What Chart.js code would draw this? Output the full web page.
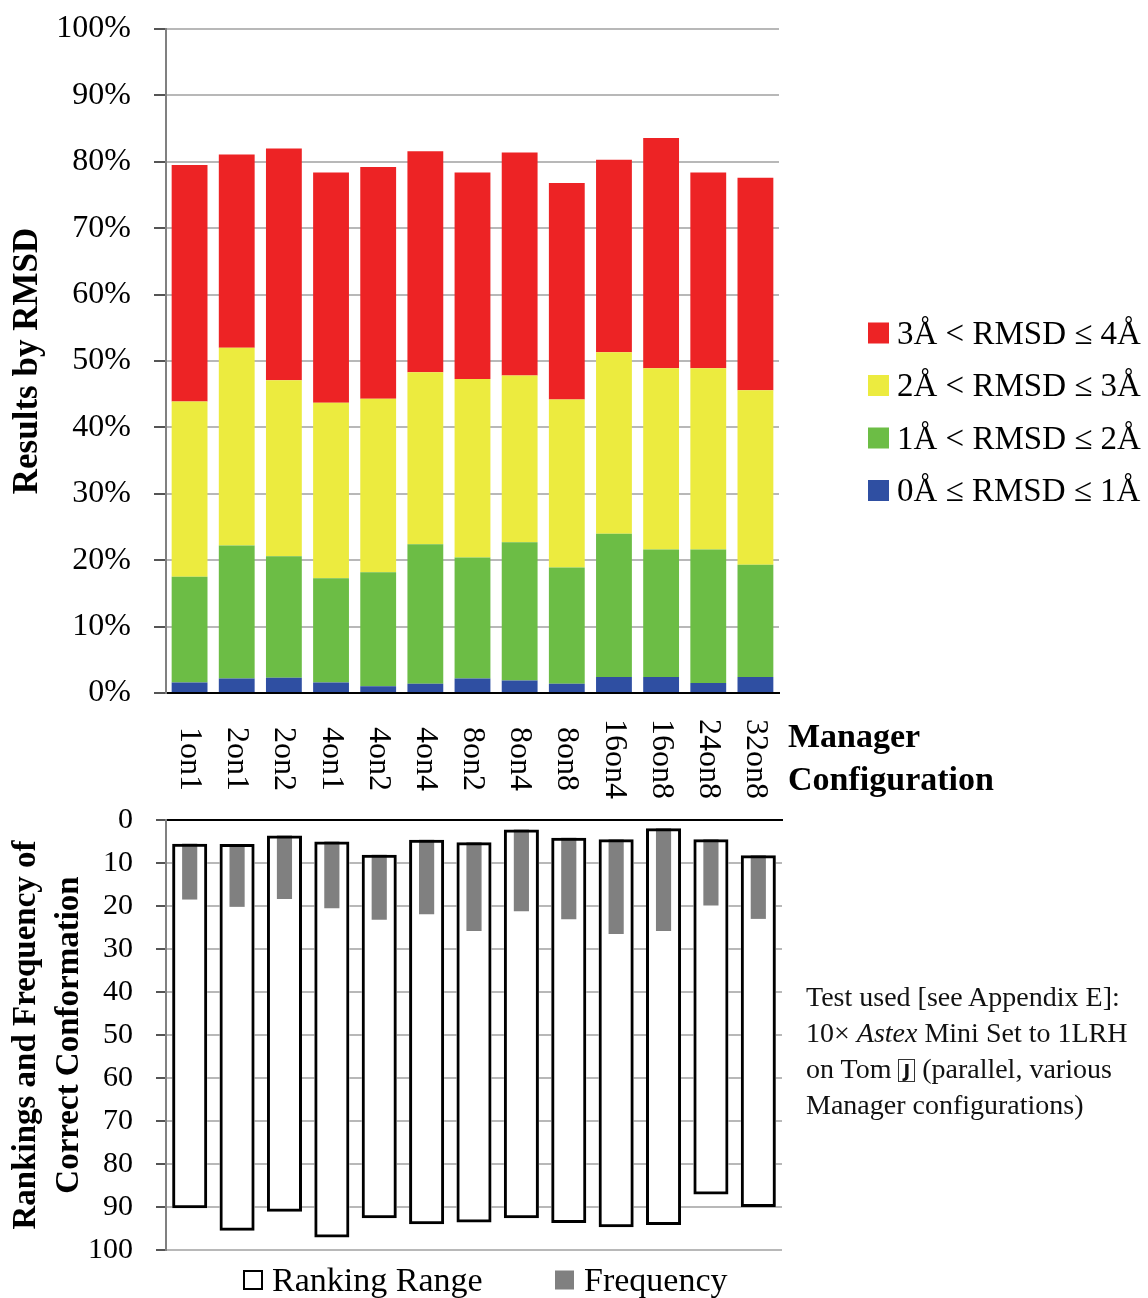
<!DOCTYPE html>
<html>
<head>
<meta charset="utf-8">
<script src="https://cdn.jsdelivr.net/npm/chart.js@4.4.0/dist/chart.umd.min.js"></script>
<style>
body { margin: 0; background: #fff; }
#page { position: relative; width: 1148px; height: 1298px; overflow: hidden; background: #fff; }
canvas { position: absolute; left: 0; }
#rmsdChart { top: 0; }
#rankChart { top: 770px; }
#note { position: absolute; left: 806px; top: 979px; font: 28px/36px 'Liberation Serif', serif; color: #111; white-space: nowrap; }
.key { display: inline-block; border: 1.5px solid #333; font: bold 18px/21px 'DejaVu Sans', sans-serif; padding: 0 4px; vertical-align: 1px; }
</style>
</head>
<body>
<div id="page">
<canvas id="rmsdChart" width="1148" height="810"></canvas>
<canvas id="rankChart" width="1148" height="528"></canvas>
<div id="note">Test used [see Appendix E]:<br>10× <i>Astex</i> Mini Set to 1LRH<br>on Tom <span class="key">J</span> (parallel, various<br>Manager configurations)</div>
</div>
<script>
const configs = ['1on1', '2on1', '2on2', '4on1', '4on2', '4on4', '8on2', '8on4', '8on8', '16on4', '16on8', '24on8', '32on8'];

// share of results in each RMSD band (%), stacked bottom to top
const rmsd0to1 = [1.6, 2.2, 2.3, 1.6, 1.0, 1.4, 2.2, 1.9, 1.4, 2.4, 2.4, 1.5, 2.4];
const rmsd1to2 = [15.9, 20.0, 18.3, 15.7, 17.2, 21.0, 18.2, 20.8, 17.5, 21.6, 19.2, 20.1, 16.9];
const rmsd2to3 = [26.4, 29.8, 26.5, 26.4, 26.1, 25.9, 26.9, 25.1, 25.3, 27.3, 27.3, 27.3, 26.3];
const rmsd3to4 = [35.6, 29.1, 34.9, 34.7, 34.9, 33.3, 31.1, 33.6, 32.6, 29.0, 34.7, 29.5, 32.0];

// ranking of the correct conformation
const rankBest = [5.5, 5.6, 3.6, 5.0, 8.1, 4.6, 5.2, 2.2, 4.1, 4.5, 1.9, 4.5, 8.2];
const rankWorst = [90.3, 95.5, 91.1, 97.1, 92.6, 94.0, 93.6, 92.6, 93.7, 94.7, 94.2, 87.1, 90.0];
const freqEnd = [18.5, 20.2, 18.4, 20.5, 23.2, 21.9, 25.8, 21.2, 23.1, 26.5, 25.8, 19.9, 23.0];

const serif = '"Liberation Serif", serif';
const gridColor = '#b8b8b8';

const rmsdExtras = {
    id: 'rmsdExtras',
    afterDraw(chart) {
        const ctx = chart.ctx;
        const x = chart.scales.x;
        ctx.save();
        ctx.fillStyle = '#000';
        ctx.font = '32px ' + serif;
        ctx.textAlign = 'center';
        ctx.textBaseline = 'middle';
        configs.forEach((label, i) => {
            ctx.save();
            ctx.translate(x.getPixelForValue(i), 759);
            ctx.rotate(Math.PI / 2);
            ctx.fillText(label, 0, 0);
            ctx.restore();
        });

        ctx.textAlign = 'left';
        ctx.textBaseline = 'alphabetic';
        ctx.font = 'bold 34px ' + serif;
        ctx.fillText('Manager', 788, 747);
        ctx.fillText('Configuration', 788, 790);

        // legend, top band first
        ctx.font = '33px ' + serif;
        ctx.textBaseline = 'middle';
        chart.data.datasets.slice().reverse().forEach((ds, i) => {
            const y = 333 + i * 52.5;
            ctx.fillStyle = ds.backgroundColor;
            ctx.fillRect(868, y - 10.5, 21, 21);
            ctx.fillStyle = '#000';
            ctx.fillText(ds.label, 897, y + 2);
        });
        ctx.restore();
    }
};

const rankExtras = {
    id: 'rankExtras',
    afterDraw(chart) {
        const ctx = chart.ctx;
        const y = 510;
        ctx.save();
        ctx.strokeStyle = '#000';
        ctx.lineWidth = 2;
        ctx.strokeRect(244, y - 9, 18, 18);
        ctx.fillStyle = '#808080';
        ctx.fillRect(555, y - 9.5, 19, 19);
        ctx.fillStyle = '#000';
        ctx.font = '34px ' + serif;
        ctx.textBaseline = 'middle';
        ctx.fillText('Ranking Range', 272, y + 2);
        ctx.fillText('Frequency', 584, y + 2);
        ctx.restore();
    }
};

const rmsdCtx = document.getElementById('rmsdChart').getContext('2d');
const rmsdChart = new Chart(rmsdCtx, {
    type: 'bar',
    data: {
        labels: configs,
        datasets: [{
            label: '0Å ≤ RMSD ≤ 1Å',
            data: rmsd0to1,
            backgroundColor: '#2f4fa2'
        },
        {
            label: '1Å < RMSD ≤ 2Å',
            data: rmsd1to2,
            backgroundColor: '#6cbd45'
        },
        {
            label: '2Å < RMSD ≤ 3Å',
            data: rmsd2to3,
            backgroundColor: '#eceb3f'
        },
        {
            label: '3Å < RMSD ≤ 4Å',
            data: rmsd3to4,
            backgroundColor: '#ed2325'
        }]
    },
    options: {
        responsive: false,
        animation: false,
        devicePixelRatio: 1,
        barPercentage: 0.76,
        categoryPercentage: 1,
        layout: { padding: { top: 29, right: 369, bottom: 0, left: 0 } },
        scales: {
            x: {
                stacked: true,
                ticks: { display: false },
                grid: { display: false },
                border: { color: '#000', width: 2 },
                afterFit: (scale) => { scale.height = 117; }
            },
            y: {
                stacked: true,
                min: 0,
                max: 100,
                ticks: {
                    stepSize: 10,
                    color: '#000',
                    padding: 23,
                    font: { family: serif, size: 32 },
                    callback: (v) => v + '%'
                },
                grid: { color: gridColor, lineWidth: 2, tickLength: 12, tickColor: '#555' },
                border: { color: '#808080', width: 2 },
                title: {
                    display: true,
                    text: 'Results by RMSD',
                    color: '#000',
                    padding: { top: 7, bottom: 0 },
                    font: { family: serif, size: 35, weight: 'bold' }
                },
                afterFit: (scale) => {
                    scale.width = 166;
                    // the layout padding already leaves room for the end labels
                    scale.paddingTop = 0;
                    scale.paddingBottom = 0;
                }
            }
        },
        plugins: {
            legend: { display: false },
            tooltip: { enabled: false }
        }
    },
    plugins: [rmsdExtras]
});

const rankCtx = document.getElementById('rankChart').getContext('2d');
const rankChart = new Chart(rankCtx, {
    type: 'bar',
    data: {
        labels: configs,
        datasets: [{
            label: 'Ranking Range',
            data: configs.map((c, i) => [rankBest[i], rankWorst[i]]),
            backgroundColor: '#fff',
            borderWidth: 0,
            barPercentage: 0.74,
            grouped: false,
            order: 2
        },
        {
            label: 'Frequency',
            data: configs.map((c, i) => [rankBest[i], freqEnd[i]]),
            backgroundColor: '#808080',
            barPercentage: 0.32,
            grouped: false,
            order: 1
        },
        {
            label: 'Ranking Range outline',
            data: configs.map((c, i) => [rankBest[i], rankWorst[i]]),
            backgroundColor: 'rgba(0,0,0,0)',
            borderColor: '#000',
            borderWidth: 3,
            borderSkipped: false,
            barPercentage: 0.74,
            grouped: false,
            order: 0
        }]
    },
    options: {
        responsive: false,
        animation: false,
        devicePixelRatio: 1,
        categoryPercentage: 1,
        layout: { padding: { top: 50, right: 366, bottom: 48, left: 0 } },
        scales: {
            x: {
                position: 'top',
                ticks: { display: false },
                grid: { display: false },
                border: { color: '#000', width: 2 },
                afterFit: (scale) => { scale.height = 0; }
            },
            y: {
                reverse: true,
                min: 0,
                max: 100,
                ticks: {
                    stepSize: 10,
                    color: '#000',
                    padding: 23,
                    font: { family: serif, size: 30 }
                },
                grid: { color: gridColor, lineWidth: 2, tickLength: 10, tickColor: '#555' },
                border: { color: '#808080', width: 2 },
                title: {
                    display: true,
                    text: ['Rankings and Frequency of', 'Correct Conformation'],
                    color: '#000',
                    padding: { top: 5, bottom: 0 },
                    font: { family: serif, size: 33, weight: 'bold', lineHeight: 1.3 }
                },
                afterFit: (scale) => {
                    scale.width = 166;
                    scale.paddingTop = 0;
                    scale.paddingBottom = 0;
                }
            }
        },
        plugins: {
            legend: { display: false },
            tooltip: { enabled: false }
        }
    },
    plugins: [rankExtras]
});
</script>
</body>
</html>
